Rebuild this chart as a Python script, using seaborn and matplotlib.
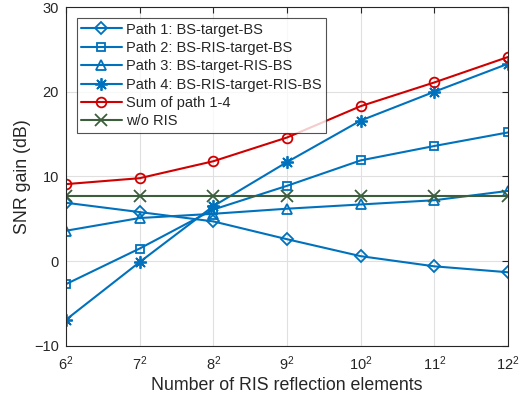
import numpy as np
import pandas as pd
import matplotlib
matplotlib.use("Agg")
import matplotlib.pyplot as plt
import seaborn as sns

# RIS size (elements per side), x axis uses n^2
ris_side = [6, 7, 8, 9, 10, 11, 12]
tick_labels = [r"$\mathregular{%d^2}$" % n for n in ris_side]

path1 = [6.9, 5.8, 4.7, 2.6, 0.6, -0.6, -1.3]
path2 = [-2.7, 1.5, 6.1, 8.9, 11.9, 13.6, 15.2]
path3 = [3.6, 5.1, 5.6, 6.2, 6.7, 7.2, 8.3]
path4 = [-6.9, -0.1, 6.5, 11.7, 16.6, 20.0, 23.3]
path_sum = [9.1, 9.8, 11.8, 14.6, 18.3, 21.1, 24.1]
no_ris = [7.7, 7.7, 7.7, 7.7, 7.7, 7.7, 7.7]

labels = ["Path 1: BS-target-BS", "Path 2: BS-RIS-target-BS",
          "Path 3: BS-target-RIS-BS", "Path 4: BS-RIS-target-RIS-BS",
          "Sum of path 1-4", "w/o RIS"]

sns.set_style("white")
plt.rcParams['font.family'] = ['Liberation Sans', 'DejaVu Sans']
plt.rcParams['mathtext.fontset'] = 'custom'
plt.rcParams['mathtext.rm'] = 'Liberation Sans'

blue = '#0072BD'
red = '#D00000'
green = '#3D5E3D'
styles = [
    (path1, 'D', blue, dict(markersize=6)),
    (path2, 's', blue, dict(markersize=6)),
    (path3, '^', blue, dict(markersize=7)),
    (path4, (8, 2, 0), blue, dict(markersize=9)),
    (path_sum, 'o', red, dict(markersize=7)),
    (no_ris, 'x', green, dict(markersize=8)),
]

fig, ax = plt.subplots(figsize=(5.3, 4.05), dpi=100)
fig.subplots_adjust(left=0.1245, right=0.9585, top=0.9827, bottom=0.1457)

x = np.arange(len(ris_side))
for (vals, mk, col, kw), lab in zip(styles, labels):
    df = pd.DataFrame({"x": x, "y": vals})
    sns.lineplot(data=df, x="x", y="y", ax=ax, color=col, marker=mk,
                 markerfacecolor='none', markeredgecolor=col,
                 markeredgewidth=1.3, linewidth=1.5, label=lab, **kw)

ax.set_xlim(0, len(ris_side) - 1)
ax.set_ylim(-10, 30)
ax.set_xticks(x)
ax.set_xticklabels(tick_labels)
ax.set_yticks([-10, 0, 10, 20, 30])
ax.tick_params(direction='in', top=True, right=True, labelsize=10.5,
               length=4, colors='#262626')
ax.tick_params(axis='x', pad=6)
ax.tick_params(axis='y', pad=5)
ax.grid(True, color='#E0E0E0', linewidth=0.8)
for s in ax.spines.values():
    s.set_color('#262626')
    s.set_linewidth(0.8)
ax.set_xlabel("Number of RIS reflection elements", fontsize=12.8, color='#262626',
              labelpad=3)
ax.set_ylabel("SNR gain (dB)", fontsize=12.8, color='#262626', labelpad=2)

leg = ax.legend(loc='upper left', fontsize=10.5, frameon=True, fancybox=False,
                handlelength=2.75, borderpad=0.3, labelspacing=0.3,
                handletextpad=0.3, borderaxespad=0, bbox_to_anchor=(0.025, 0.967))
leg.get_frame().set_edgecolor('#262626')
leg.get_frame().set_linewidth(0.8)

fig.savefig("out.png", dpi=100)
